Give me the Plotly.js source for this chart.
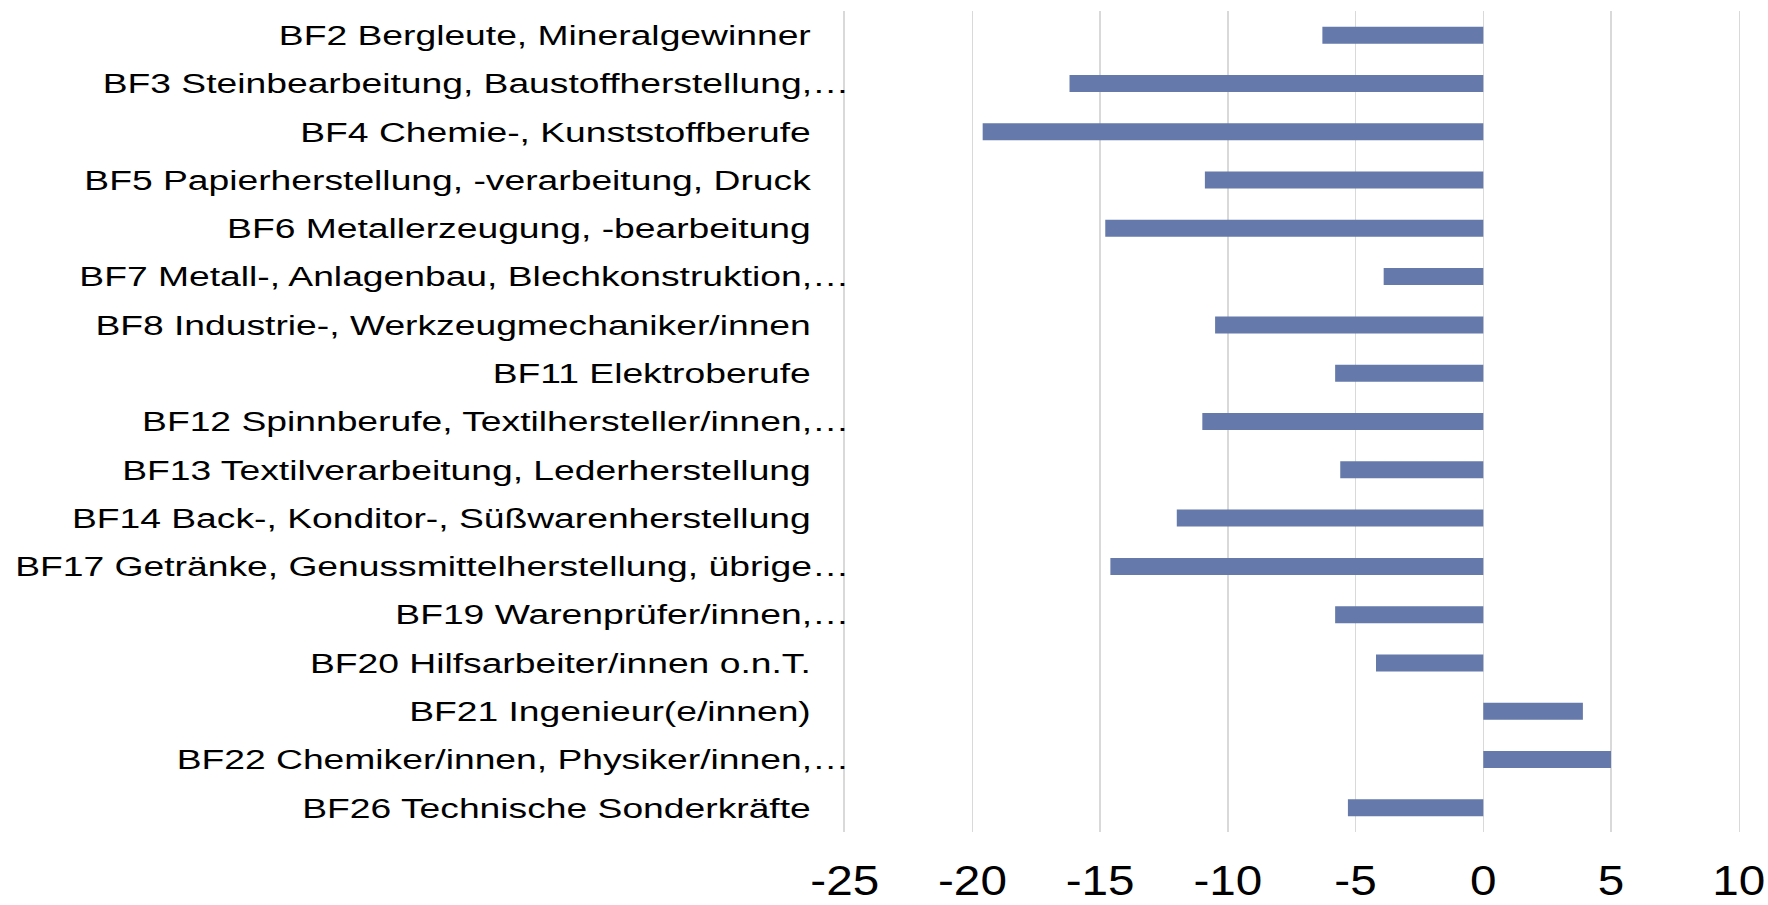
<!DOCTYPE html>
<html>
<head>
<meta charset="utf-8">
<script src="https://cdn.plot.ly/plotly-3.0.1.min.js"></script>
<style>
html, body { margin: 0; padding: 0; overflow: hidden; background: #ffffff; }
#wrap { width: 1768px; height: 905px; overflow: hidden; }
#chart { width: 1329px; height: 905px; transform: scaleX(1.3303); transform-origin: 0 0; }
</style>
</head>
<body>
<div id="wrap"><div id="chart"></div></div>
<script>
const categories = [
  "BF2 Bergleute, Mineralgewinner",
  "BF3 Steinbearbeitung, Baustoffherstellung,…",
  "BF4 Chemie-, Kunststoffberufe",
  "BF5 Papierherstellung, -verarbeitung, Druck",
  "BF6 Metallerzeugung, -bearbeitung",
  "BF7 Metall-, Anlagenbau, Blechkonstruktion,…",
  "BF8 Industrie-, Werkzeugmechaniker/innen",
  "BF11 Elektroberufe",
  "BF12 Spinnberufe, Textilhersteller/innen,…",
  "BF13 Textilverarbeitung, Lederherstellung",
  "BF14 Back-, Konditor-, Süßwarenherstellung",
  "BF17 Getränke, Genussmittelherstellung, übrige…",
  "BF19 Warenprüfer/innen,…",
  "BF20 Hilfsarbeiter/innen o.n.T.",
  "BF21 Ingenieur(e/innen)",
  "BF22 Chemiker/innen, Physiker/innen,…",
  "BF26 Technische Sonderkräfte"
];

const values = [
  -6.3, -16.2, -19.6, -10.9, -14.8, -3.9, -10.5, -5.8, -11.0,
  -5.6, -12.0, -14.6, -5.8, -4.2, 3.9, 5.0, -5.3
];

const xTickValues = [-25, -20, -15, -10, -5, 0, 5, 10];
const xTickLabels = ["-25", "-20", "-15", "-10", "-5", "0", "5", "10"];

// full labels sit a little further from the axis than the truncated ones
const yTickText = categories.map(c => c.endsWith("…") ? c : c + "\u00a0\u00a0\u00a0\u2009");

const FONT = '"Liberation Sans", Arial, sans-serif';

const trace = {
  type: "bar",
  orientation: "h",
  y: categories,
  x: values,
  marker: { color: "#6579aa", line: { width: 0 } },
  hoverinfo: "x+y"
};

const layout = {
  width: 1329,
  height: 905,
  margin: { l: 635, r: 22, t: 11, b: 73, pad: 0 },
  paper_bgcolor: "#ffffff",
  plot_bgcolor: "#ffffff",
  showlegend: false,
  bargap: 0.648,
  font: { family: FONT, color: "#000000" },
  xaxis: {
    range: [-25, 10],
    tickmode: "array",
    tickvals: xTickValues,
    ticktext: xTickLabels,
    tickangle: 0,
    ticklabeloverflow: "allow",
    showgrid: true,
    gridcolor: "#d9d9d9",
    gridwidth: 1,
    zeroline: false,
    showline: false,
    ticks: "outside",
    ticklen: 12,
    tickcolor: "rgba(0,0,0,0)",
    tickfont: { family: FONT, size: 42, color: "#000000" }
  },
  yaxis: {
    type: "category",
    autorange: "reversed",
    tickmode: "array",
    tickvals: categories,
    ticktext: yTickText,
    showgrid: false,
    zeroline: false,
    showline: true,
    mirror: true,
    linecolor: "#d9d9d9",
    linewidth: 1,
    ticks: "",
    ticklabelstandoff: -10,
    tickfont: { family: FONT, size: 28, color: "#000000" }
  }
};

Plotly.newPlot("chart", [trace], layout, { displayModeBar: false, responsive: false }).then(gd => {
  // the reference's value labels are narrower than the stretched category labels
  gd.querySelectorAll(".xtick text").forEach(t => {
    const tr = t.getAttribute("transform") || "";
    t.setAttribute("transform", tr + " scale(0.854,1)");
  });
});
</script>
</body>
</html>
